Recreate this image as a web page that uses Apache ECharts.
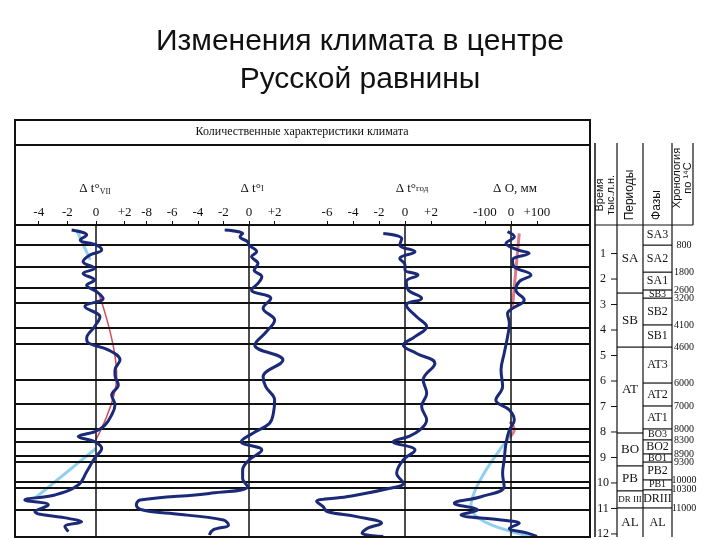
<!DOCTYPE html>
<html>
<head>
<meta charset="utf-8">
<script src="https://cdn.jsdelivr.net/npm/echarts@6/dist/echarts.min.js"></script>
<style>html,body{margin:0;padding:0;background:#fff}#main{width:720px;height:540px}</style>
</head>
<body>
<div id="main"></div>
<script>
// ---- data (t = тыс. лет назад) ----
const boundaries = [0.67, 1.53, 2.35, 2.94, 3.92, 4.55, 5.96, 6.9, 7.88, 8.4, 8.94, 9.18, 9.96, 10.2, 11.06];

const t1 = [0.08, 0.27, 0.47, 0.67, 0.86, 1.06, 1.32, 1.58, 1.78, 2.04, 2.24, 2.5, 2.76, 3.08, 3.48, 3.87, 4.33, 4.52, 4.78, 5.18, 5.57, 5.76, 6.16, 6.55, 6.94, 7.33, 7.73, 7.99, 8.18, 8.38, 8.64, 9.03, 9.56, 10.08, 10.47, 10.67, 10.86, 11.12, 11.39, 11.52, 11.71, 11.91];
const v1 = [-1.7, -0.65, -1.1, 0.05, 0.4, -0.42, -0.9, -0.1, -0.9, -0.1, -0.65, 0.05, 0.5, -0.77, 0.28, -0.1, -0.65, -0.5, 0.86, 1.68, 1.33, 1.33, 1.56, 1.1, 1.33, 1.1, 0.63, -0.07, -1.24, -0.1, 0.4, -0.1, -0.65, -1.24, -2.87, -4.97, -3.33, -4.27, -1.93, -1.0, -2.17, -1.93];
const red1T = [2.5, 5.8, 8.3];
const red1V = [0.15, 1.45, 0];
const blue1aT = [0.08, 1.25];
const blue1aV = [-1.35, -0.4];
const blue1bT = [8.64, 10.6];
const blue1bV = [0, -4.27];

const t2 = [0.08, 0.21, 0.34, 0.54, 0.67, 0.93, 1.12, 1.39, 1.65, 1.91, 2.17, 2.43, 2.76, 3.15, 3.61, 4.07, 4.59, 5.18, 5.83, 6.22, 6.75, 7.27, 7.66, 8.05, 8.38, 8.71, 9.1, 9.49, 9.82, 10.14, 10.41, 10.67, 10.86, 11.06, 11.19, 11.45, 11.65, 11.84, 12.04];
const v2 = [-1.9, -0.5, -0.7, -0.1, 0, 0.6, 0.2, 0.7, 0.4, 1.0, 0.7, 0.2, 1.7, 1.1, 2.0, 1.35, 0.45, 2.65, 1.1, 1.3, 2.0, 1.9, 1.6, 0.3, -0.6, 1.0, 0, -0.5, -0.5, -0.1, -3.1, -8.5, -8.8, -8.3, -6.2, -2.0, -1.6, -2.8, -3.1];

const t3 = [0.21, 0.41, 0.67, 0.93, 1.19, 1.45, 1.65, 1.84, 2.1, 2.43, 2.76, 3.02, 3.48, 3.87, 4.26, 4.59, 4.92, 5.31, 5.96, 6.48, 7.0, 7.53, 7.92, 8.18, 8.38, 8.71, 9.1, 9.62, 10.01, 10.21, 10.54, 10.73, 10.93, 11.12, 11.32, 11.58, 11.78, 11.97, 12.1];
const v3 = [-1.67, -0.25, -0.4, 0.77, -0.4, 0, 0, 1.0, 0.1, 0.25, 1.28, 0.1, 0.9, 1.67, 0.77, -0.13, 0.9, 2.3, 1.4, 1.67, 1.28, 1.67, 1.15, 0.25, -0.9, 0.77, -0.13, -0.64, -0.13, -1.15, -4.5, -6.8, -6.3, -6.0, -3.7, -1.8, -2.9, -3.3, -1.67];

const t4 = [0.14, 0.34, 0.6, 0.86, 0.99, 1.25, 1.52, 1.84, 2.1, 2.43, 2.82, 3.15, 3.35, 3.74, 4.26, 4.92, 5.57, 6.22, 6.75, 7.14, 7.53, 7.92, 8.44, 9.1, 9.62, 10.14, 10.54, 10.8, 11.06, 11.25, 11.45, 11.58, 11.78, 11.97, 12.1];
const v4 = [-13, 13, -19, 26, 70, 6, 13, 77, 32, 19, 51, 6, -13, -6, -13, -26, -38, -32, -58, -6, 13, -6, -19, -26, -32, -26, -115, -218, -128, -192, -38, 32, -6, 64, 100];
const red4aT = [0.21, 3.08];
const red4aV = [32, 6];
const red4bT = [7.6, 7.9, 8.2];
const red4bV = [-5, 13, -5];
const blue4T = [8.05, 10.93, 12.1];
const blue4V = [6, -154, 77];

const periods = [['SA', -0.12, 2.55], ['SB', 2.55, 4.67], ['AT', 4.67, 8.04], ['BO', 8.04, 9.33], ['PB', 9.33, 10.31], ['DR III', 10.31, 10.98], ['AL', 10.98, 12.12]];
const phases = ['SA3', 'SA2', 'SA1', 'SB3', 'SB2', 'SB1', 'AT3', 'AT2', 'AT1', 'BO3', 'BO2', 'BO1', 'PB2', 'PB1', 'DRIII', 'AL'];
const phaseEdges = [-0.12, 0.67, 1.73, 2.43, 2.75, 3.8, 4.67, 6.08, 6.98, 7.88, 8.31, 8.86, 9.18, 9.88, 10.27, 10.98, 12.12];
const chrono = ['800', '1800', '2600', '3200', '4100', '4600', '6000', '7000', '8000', '8300', '8900', '9300', '10000', '10300', '11000'];
const timeTicks = [1, 2, 3, 4, 5, 6, 7, 8, 9, 10, 11, 12];

const ticks1 = [-4, -2, 0, 2];
const ticks2 = [-8, -6, -4, -2, 0, 2];
const ticks3 = [-6, -4, -2, 0, 2];
const ticks4 = [-100, 0, 100];

const SERIF = 'Liberation Serif';
const INK = '#111';
const CURVE = '#1b2a78';

const chart = echarts.init(document.getElementById('main'));

const pairs = (v, t) => v.map((x, i) => [x, t[i]]);
const lefts = [15, 132, 290, 455];
const widths = [117, 158, 165, 135];
const ranges = [[-5.66, 2.52], [-9.14, 3.2], [-8.85, 3.85], [-215, 304]];
const tickSets = [ticks1, ticks2, ticks3, ticks4];

const grids = lefts.map((l, i) => ({ left: l, width: widths[i], top: 225, height: 312 }));
const xAxes = tickSets.map((tk, i) => ({
  gridIndex: i, type: 'value', position: 'top', min: ranges[i][0], max: ranges[i][1],
  axisLine: { show: true, onZero: false, lineStyle: { color: INK, width: 2 } },
  axisTick: { show: true, customValues: tk, length: 4, lineStyle: { color: INK } },
  axisLabel: { customValues: tk, margin: 6, fontFamily: SERIF, fontSize: 13, color: INK,
    formatter: v => v > 0 ? '+' + v : (v < 0 ? '-' + Math.abs(v) : '0') },
  splitLine: { show: false }
}));
const yAxes = tickSets.map((tk, i) => ({
  gridIndex: i, type: 'value', inverse: true, min: -0.12, max: 12.12, show: false
}));

function curve(i, data, color, width, z) {
  return { type: 'line', xAxisIndex: i, yAxisIndex: i, data: data, smooth: 0.4, symbol: 'none',
    lineStyle: { color: color, width: width }, z: z };
}
function guide(i) {
  return { type: 'line', xAxisIndex: i, yAxisIndex: i, data: [], silent: true,
    markLine: { symbol: 'none', silent: true, label: { show: false },
      lineStyle: { color: INK, width: 2, type: 'solid' },
      data: boundaries.map(b => ({ yAxis: b })).concat([{ xAxis: 0, lineStyle: { width: 1.5 } }]) } };
}

const series = [];
for (let i = 0; i < 4; i++) series.push(guide(i));
series.push(curve(0, pairs(blue1aV, blue1aT), '#8fd0ee', 3, 3));
series.push(curve(0, pairs(blue1bV, blue1bT), '#8fd0ee', 3, 3));
series.push(curve(0, pairs(red1V, red1T), '#d8485a', 1.5, 4));
series.push(curve(0, pairs(v1, t1), CURVE, 3, 5));
series.push(curve(1, pairs(v2, t2), CURVE, 3, 5));
series.push(curve(2, pairs(v3, t3), CURVE, 3, 5));
series.push(curve(3, pairs(blue4V, blue4T), '#8fd0ee', 3, 3));
series.push(curve(3, pairs(red4aV, red4aT), '#e07a8a', 3, 4));
series.push(curve(3, pairs(red4bV, red4bT), '#e07a8a', 3, 4));
series.push(curve(3, pairs(v4, t4), CURVE, 3, 5));

chart.setOption({
  animation: false,
  title: {
    text: 'Изменения климата в центре\nРусской равнины', left: 'center', top: 18,
    textStyle: { fontFamily: 'Liberation Sans', fontSize: 30, fontWeight: 'normal', color: '#111', lineHeight: 38 }
  },
  grid: grids, xAxis: xAxes, yAxis: yAxes, series: series
});

// frame, header and right-hand table
const Y = t => chart.convertToPixel({ yAxisIndex: 0 }, t);
const g = [];
const line = (x1, y1, x2, y2, w) => g.push({ type: 'line', shape: { x1, y1, x2, y2 }, style: { stroke: INK, lineWidth: w || 1.5 }, z: 10 });
const text = (x, y, s, size, extra) => g.push(Object.assign({ type: 'text', x, y, style: { text: s, font: (size || 13) + 'px "' + SERIF + '"', fill: INK, align: 'center', verticalAlign: 'middle' }, z: 11 }, extra || {}));

g.push({ type: 'rect', shape: { x: 15, y: 120, width: 575, height: 417 }, style: { fill: null, stroke: INK, lineWidth: 2 }, z: 10 });
line(15, 145, 590, 145, 2);
text(302, 132, 'Количественные характеристики климата', 12);
g.push({ type: 'text', x: 95, y: 189, z: 11, style: { rich: { a: { fontFamily: SERIF, fontSize: 13, fill: INK }, s: { fontFamily: SERIF, fontSize: 8, fill: INK, verticalAlign: 'bottom' } }, text: '{a|Δ t°}{s|VII}', align: 'center', verticalAlign: 'middle' } });
g.push({ type: 'text', x: 252, y: 189, z: 11, style: { rich: { a: { fontFamily: SERIF, fontSize: 13, fill: INK }, s: { fontFamily: SERIF, fontSize: 8, fill: INK } }, text: '{a|Δ t°}{s|I}', align: 'center', verticalAlign: 'middle' } });
g.push({ type: 'text', x: 412, y: 189, z: 11, style: { rich: { a: { fontFamily: SERIF, fontSize: 13, fill: INK }, s: { fontFamily: SERIF, fontSize: 9, fill: INK } }, text: '{a|Δ t°}{s|год}', align: 'center', verticalAlign: 'middle' } });
text(515, 189, 'Δ O, мм', 13);

// table columns
line(595, 143, 595, 537, 1.5);
line(617, 143, 617, 537, 1.2);
line(643, 143, 643, 537, 1.2);
line(672, 143, 672, 537, 1.2);
line(693, 143, 693, 225, 1.2);
line(595, 225, 693, 225, 1.2);
const rot = (x, y, s, size) => text(x, y, s, size, { rotation: Math.PI / 2, style: { text: s, font: size + 'px "Liberation Sans"', fill: INK, align: 'center', verticalAlign: 'middle', lineHeight: size } });
rot(605, 195, 'Время\nтыс.л.н.', 11);
rot(630, 195, 'Периоды', 12);
rot(657, 205, 'Фазы', 12);
rot(682, 178, 'Хронология\nпо ¹⁴C', 11);

timeTicks.forEach(t => { const y = Y(t); text(603, y, String(t), 12); line(611, y, 617, y, 1); });
periods.forEach(p => {
  const y1 = Y(p[1]), y2 = Y(p[2]);
  if (p[1] > 0) line(617, y1, 643, y1, 1.2);
  text(630, (y1 + y2) / 2, p[0], p[0].length > 3 ? 9 : 13);
});
phases.forEach((p, i) => {
  const y1 = Y(phaseEdges[i]), y2 = Y(phaseEdges[i + 1]);
  if (i > 0) line(643, y1, 672, y1, 1.2);
  text(657.5, (y1 + y2) / 2, p, (y2 - y1) < 12 ? 10 : 12);
});
chrono.forEach((c, i) => text(684, Y(phaseEdges[i + 1]), c, 10));

chart.setOption({ graphic: { elements: g } });
</script>
</body>
</html>
